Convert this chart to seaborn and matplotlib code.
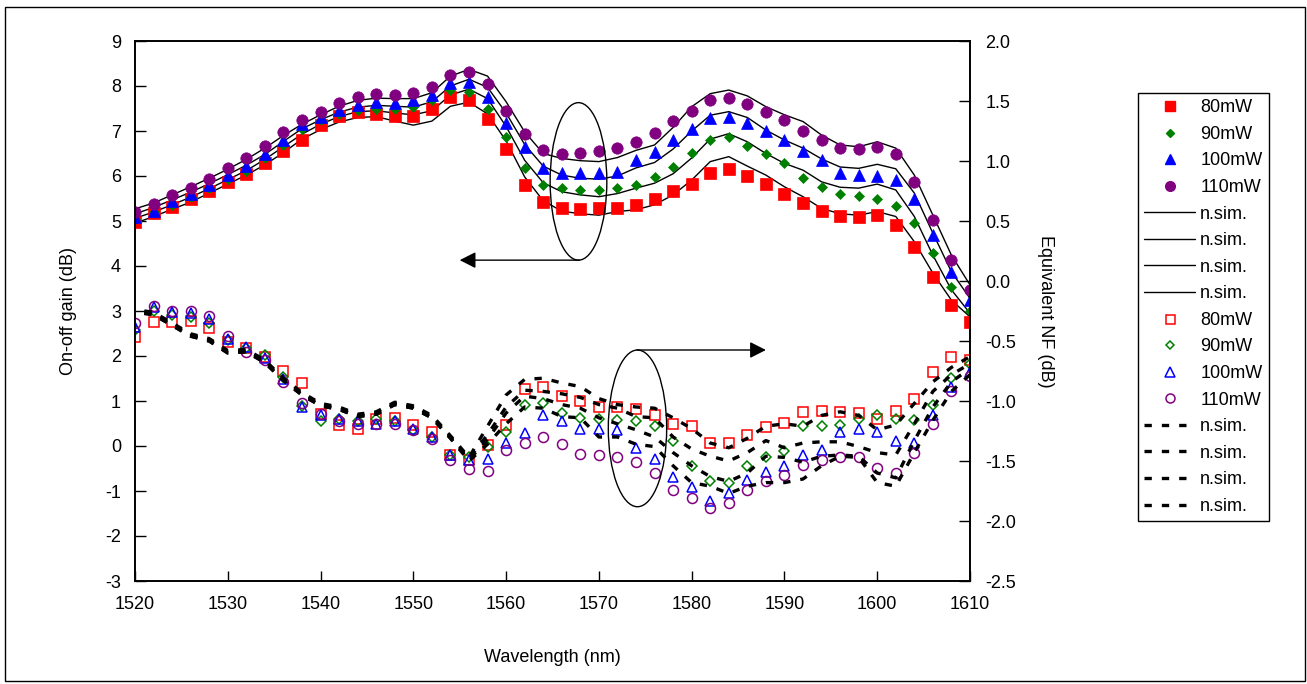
import numpy as np
import pandas as pd
import matplotlib
matplotlib.use("Agg")
import matplotlib.pyplot as plt
import seaborn as sns
from matplotlib.patches import Ellipse, Rectangle
from matplotlib.lines import Line2D
from matplotlib.ticker import FormatStrFormatter, MultipleLocator

# ---------------- data ----------------
wavelength = list(range(1520, 1611, 2))

gain_80 = [4.98, 5.17, 5.32, 5.48, 5.67, 5.87, 6.04, 6.30, 6.56, 6.80, 7.13, 7.33, 7.43, 7.38, 7.33, 7.33,
           7.48, 7.75, 7.69, 7.26, 6.60, 5.80, 5.42, 5.29, 5.26, 5.28, 5.30, 5.36, 5.50, 5.67, 5.82, 6.07,
           6.16, 6.01, 5.82, 5.61, 5.41, 5.23, 5.11, 5.10, 5.13, 4.90, 4.42, 3.76, 3.13, 2.76]
gain_90 = [5.04, 5.21, 5.36, 5.54, 5.73, 5.93, 6.12, 6.39, 6.69, 7.05, 7.24, 7.38, 7.47, 7.50, 7.50, 7.54,
           7.69, 7.91, 7.87, 7.50, 6.87, 6.17, 5.80, 5.73, 5.70, 5.70, 5.73, 5.81, 5.97, 6.19, 6.52, 6.79,
           6.86, 6.67, 6.48, 6.28, 5.95, 5.76, 5.61, 5.56, 5.50, 5.34, 4.96, 4.30, 3.54, 2.99]
gain_100 = [5.10, 5.23, 5.44, 5.61, 5.80, 6.02, 6.22, 6.50, 6.80, 7.16, 7.32, 7.47, 7.58, 7.65, 7.62, 7.69,
            7.80, 8.06, 8.10, 7.76, 7.17, 6.65, 6.17, 6.06, 6.06, 6.06, 6.10, 6.36, 6.54, 6.80, 7.04, 7.28,
            7.32, 7.17, 6.99, 6.80, 6.56, 6.36, 6.06, 6.02, 6.01, 5.91, 5.48, 4.69, 3.87, 3.24]
gain_110 = [5.21, 5.37, 5.58, 5.74, 5.93, 6.17, 6.39, 6.67, 6.97, 7.24, 7.43, 7.63, 7.76, 7.82, 7.80, 7.85,
            7.98, 8.24, 8.32, 8.04, 7.45, 6.93, 6.58, 6.48, 6.52, 6.56, 6.62, 6.76, 6.95, 7.23, 7.45, 7.68,
            7.74, 7.60, 7.43, 7.24, 7.01, 6.79, 6.62, 6.60, 6.65, 6.48, 5.87, 5.02, 4.13, 3.47]

gain_sim_80 = [4.95, 5.10, 5.26, 5.42, 5.62, 5.82, 6.02, 6.25, 6.52, 6.82, 7.03, 7.20, 7.30, 7.32, 7.22, 7.13,
               7.22, 7.55, 7.64, 7.38, 6.78, 5.98, 5.45, 5.22, 5.16, 5.13, 5.21, 5.25, 5.36, 5.58, 5.91, 6.32,
               6.43, 6.22, 6.02, 5.76, 5.54, 5.28, 5.16, 5.13, 5.21, 5.10, 4.54, 3.84, 3.24, 2.87]
gain_sim_90 = [5.06, 5.20, 5.36, 5.53, 5.72, 5.92, 6.12, 6.37, 6.65, 6.93, 7.15, 7.32, 7.43, 7.45, 7.40, 7.36,
               7.45, 7.80, 7.93, 7.72, 7.10, 6.35, 5.85, 5.65, 5.58, 5.54, 5.61, 5.73, 5.84, 6.05, 6.40, 6.82,
               6.94, 6.76, 6.50, 6.28, 6.13, 5.87, 5.75, 5.73, 5.82, 5.69, 5.10, 4.24, 3.47, 2.95]
gain_sim_100 = [5.16, 5.30, 5.47, 5.64, 5.83, 6.03, 6.24, 6.48, 6.77, 7.05, 7.25, 7.42, 7.53, 7.57, 7.55, 7.53,
                7.65, 8.00, 8.15, 7.97, 7.40, 6.70, 6.22, 6.02, 5.95, 5.93, 6.00, 6.18, 6.30, 6.60, 7.00, 7.35,
                7.43, 7.30, 7.02, 6.80, 6.62, 6.38, 6.20, 6.17, 6.26, 6.16, 5.62, 4.73, 3.87, 3.28]
gain_sim_110 = [5.27, 5.40, 5.58, 5.76, 5.95, 6.15, 6.37, 6.62, 6.90, 7.15, 7.36, 7.55, 7.68, 7.73, 7.72, 7.72,
                7.85, 8.22, 8.37, 8.22, 7.65, 6.98, 6.50, 6.39, 6.34, 6.32, 6.41, 6.57, 6.69, 7.08, 7.54, 7.83,
                7.91, 7.78, 7.54, 7.36, 7.21, 6.91, 6.69, 6.65, 6.76, 6.62, 6.02, 5.13, 4.24, 3.58]

nf_80 = [-0.47, -0.34, -0.34, -0.33, -0.39, -0.51, -0.56, -0.63, -0.75, -0.85, -1.11, -1.20, -1.23, -1.15, -1.14,
         -1.20, -1.26, -1.45, -1.49, -1.37, -1.20, -0.90, -0.88, -0.96, -1.00, -1.05, -1.05, -1.07, -1.12, -1.19,
         -1.21, -1.35, -1.35, -1.28, -1.22, -1.18, -1.09, -1.08, -1.09, -1.10, -1.15, -1.08, -0.98, -0.76, -0.63, -0.66]
nf_90 = [-0.41, -0.25, -0.28, -0.30, -0.35, -0.49, -0.56, -0.62, -0.80, -1.04, -1.17, -1.15, -1.17, -1.15, -1.17,
         -1.24, -1.30, -1.45, -1.47, -1.38, -1.26, -1.03, -1.02, -1.10, -1.14, -1.15, -1.16, -1.17, -1.21, -1.33,
         -1.54, -1.67, -1.68, -1.54, -1.47, -1.42, -1.21, -1.21, -1.20, -1.15, -1.12, -1.15, -1.16, -1.03, -0.81, -0.69]
nf_100 = [-0.38, -0.22, -0.26, -0.27, -0.32, -0.48, -0.55, -0.64, -0.82, -1.05, -1.12, -1.15, -1.17, -1.19, -1.17,
          -1.23, -1.30, -1.45, -1.49, -1.48, -1.35, -1.27, -1.12, -1.17, -1.23, -1.23, -1.24, -1.39, -1.48, -1.63,
          -1.72, -1.83, -1.77, -1.66, -1.59, -1.54, -1.45, -1.41, -1.26, -1.23, -1.26, -1.33, -1.35, -1.12, -0.88, -0.76]
nf_110 = [-0.35, -0.21, -0.25, -0.25, -0.29, -0.46, -0.59, -0.66, -0.84, -1.02, -1.11, -1.17, -1.19, -1.19, -1.19,
          -1.24, -1.32, -1.49, -1.57, -1.58, -1.41, -1.35, -1.30, -1.36, -1.44, -1.45, -1.47, -1.51, -1.60, -1.74,
          -1.81, -1.89, -1.85, -1.74, -1.67, -1.62, -1.53, -1.49, -1.47, -1.47, -1.56, -1.60, -1.43, -1.19, -0.92, -0.79]

wavelength_sim = [1521] + list(range(1522, 1611, 2))
nf_sim_1 = [-0.25, -0.26, -0.35, -0.44, -0.48, -0.58, -0.57, -0.66, -0.81, -0.93, -1.02, -1.05, -1.11, -1.09, -1.01,
            -1.04, -1.12, -1.29, -1.47,
            -1.21, -0.95, -0.82, -0.81, -0.85, -0.88, -0.98, -1.03, -1.05, -1.06, -1.14, -1.23, -1.35, -1.39,
            -1.31, -1.21, -1.19, -1.21, -1.12, -1.09, -1.12, -1.24, -1.20, -1.02, -0.84, -0.72, -0.63]
nf_sim_2 = [-0.26, -0.27, -0.36, -0.45, -0.49, -0.59, -0.58, -0.67, -0.82, -0.94, -1.03, -1.06, -1.12, -1.10, -1.02,
            -1.05, -1.13, -1.30, -1.48,
            -1.28, -1.05, -0.91, -0.92, -0.94, -0.97, -1.03, -1.06, -1.13, -1.14, -1.30, -1.40, -1.46, -1.50,
            -1.43, -1.33, -1.39, -1.35, -1.34, -1.34, -1.38, -1.43, -1.45, -1.19, -0.92, -0.78, -0.69]
nf_sim_3 = [-0.27, -0.28, -0.37, -0.46, -0.50, -0.60, -0.59, -0.68, -0.83, -0.95, -1.04, -1.07, -1.13, -1.11, -1.03,
            -1.06, -1.14, -1.31, -1.49,
            -1.32, -1.10, -0.96, -0.98, -1.03, -1.06, -1.14, -1.19, -1.24, -1.30, -1.43, -1.54, -1.63, -1.67,
            -1.60, -1.46, -1.47, -1.51, -1.46, -1.45, -1.46, -1.60, -1.64, -1.33, -1.05, -0.84, -0.73]
nf_sim_4 = [-0.27, -0.28, -0.37, -0.46, -0.50, -0.60, -0.59, -0.68, -0.83, -0.95, -1.04, -1.07, -1.13, -1.11, -1.03,
            -1.06, -1.14, -1.31, -1.50,
            -1.36, -1.19, -1.05, -1.06, -1.13, -1.14, -1.30, -1.30, -1.36, -1.38, -1.54, -1.68, -1.71, -1.77,
            -1.71, -1.68, -1.68, -1.65, -1.54, -1.46, -1.47, -1.68, -1.71, -1.43, -1.16, -0.92, -0.78]

power_labels = ["80mW", "90mW", "100mW", "110mW"]
sim_label = "n.sim."
colors = ["#FF0000", "#008000", "#0000FF", "#800080"]

# ---------------- style ----------------
sns.set_theme(style="white")
plt.rcParams["font.family"] = ["Liberation Sans", "DejaVu Sans"]
plt.rcParams["axes.unicode_minus"] = False
for k in ["text.color", "axes.labelcolor", "xtick.color", "ytick.color", "axes.edgecolor"]:
    plt.rcParams[k] = "black"

FS = 13
W, H = 1307, 684
fig = plt.figure(figsize=(W / 100, H / 100), dpi=100)
ax = fig.add_axes([135 / W, 1 - 581 / H, 835 / W, 540 / H])
ax2 = ax.twinx()

# ---------------- gain (left axis) ----------------
for sim in [gain_sim_80, gain_sim_90, gain_sim_100, gain_sim_110]:
    sns.lineplot(x=wavelength, y=sim, ax=ax, color="black", lw=1.0, estimator=None, sort=False)

filled = [("s", 8.0), ("D", 5.2), ("^", 8.5), ("o", 8.2)]
for vals, col, (mk, ms) in zip([gain_80, gain_90, gain_100, gain_110], colors, filled):
    sns.lineplot(x=wavelength, y=vals, ax=ax, color=col, marker=mk, markersize=ms, linestyle="",
                 mec=col, mew=0.5, estimator=None, sort=False)

# ---------------- NF (right axis) ----------------
hollow = [("s", 7.2), ("D", 4.8), ("^", 7.6), ("o", 7.2)]
for vals, col, (mk, ms) in zip([nf_80, nf_90, nf_100, nf_110], colors, hollow):
    sns.lineplot(x=wavelength, y=vals, ax=ax2, color=col, marker=mk, markersize=ms, linestyle="",
                 mfc="none", mec=col, mew=1.1, estimator=None, sort=False)

dash_style = (0, (2.2, 3.0))
for sim in [nf_sim_1, nf_sim_2, nf_sim_3, nf_sim_4]:
    sns.lineplot(x=wavelength_sim, y=sim, ax=ax2, color="black", lw=2.4, linestyle=dash_style,
                 estimator=None, sort=False)

# ---------------- axes ----------------
ax.set_xlim(1520, 1610)
ax.set_ylim(-3, 9)
ax2.set_ylim(-2.5, 2.0)
ax.xaxis.set_major_locator(MultipleLocator(10))
ax.yaxis.set_major_locator(MultipleLocator(1))
ax2.yaxis.set_major_locator(MultipleLocator(0.5))
ax2.yaxis.set_major_formatter(FormatStrFormatter("%.1f"))

ax.tick_params(axis="x", bottom=True, top=False, direction="in", length=7, width=1, pad=11, labelsize=FS)
ax.tick_params(axis="y", left=True, right=False, direction="in", length=8, width=1, pad=10, labelsize=FS)
ax2.tick_params(axis="y", right=True, left=False, direction="in", length=8, width=1, pad=11, labelsize=FS)
for a in (ax, ax2):
    for sp in a.spines.values():
        sp.set_linewidth(1.2)
        sp.set_color("black")
    a.grid(False)

ax.set_xlabel("Wavelength (nm)", fontsize=FS, labelpad=26)
ax.set_ylabel("On-off gain (dB)", fontsize=FS, labelpad=20)
ax2.set_ylabel("Equivalent NF (dB)", fontsize=FS, rotation=270, va="bottom", labelpad=15)

# ---------------- annotations ----------------
ax.add_patch(Ellipse((1567.8, 5.88), 6.11, 3.50, fill=False, ec="black", lw=1.0, zorder=5))
ax.annotate("", xy=(1555.0, 4.13), xytext=(1567.9, 4.13),
            arrowprops=dict(arrowstyle="-|>,head_length=0.65,head_width=0.33", mutation_scale=15,
                            color="black", lw=1.0, shrinkA=0, shrinkB=0))
ax2.add_patch(Ellipse((1574.16, -1.228), 6.29, 1.306, fill=False, ec="black", lw=1.0, zorder=5))
ax2.annotate("", xy=(1588.0, -0.575), xytext=(1574.1, -0.575),
             arrowprops=dict(arrowstyle="-|>,head_length=0.65,head_width=0.33", mutation_scale=15,
                             color="black", lw=1.0, shrinkA=0, shrinkB=0))

# ---------------- legend ----------------
handles, labels = [], []
for col, (mk, ms), lab in zip(colors, filled, power_labels):
    handles.append(Line2D([], [], color=col, marker=mk, markersize=ms * 0.85, linestyle="none", mec=col))
    labels.append(lab)
for _ in range(4):
    handles.append(Line2D([], [], color="black", lw=1.0))
    labels.append(sim_label)
for col, (mk, ms), lab in zip(colors, hollow, power_labels):
    handles.append(Line2D([], [], color=col, marker=mk, markersize=ms * 0.9, linestyle="none",
                          mfc="none", mec=col, mew=1.1))
    labels.append(lab)
for _ in range(4):
    handles.append(Line2D([], [], color="black", lw=2.4, linestyle=dash_style))
    labels.append(sim_label)

leg = fig.legend(handles, labels, loc="upper left", bbox_to_anchor=(1138 / W, 1 - 93 / H),
                 frameon=True, fancybox=False, edgecolor="black", framealpha=1, fontsize=FS,
                 handlelength=2.8, handletextpad=0.3, labelspacing=0.53, borderpad=0.35,
                 borderaxespad=0)
leg.get_frame().set_linewidth(1.0)

# figure border
fig.add_artist(Rectangle((5 / W, 3 / H), 1300 / W, 674 / H, transform=fig.transFigure,
                         fill=False, ec="black", lw=1.0))

fig.savefig("out.png", dpi=100)
